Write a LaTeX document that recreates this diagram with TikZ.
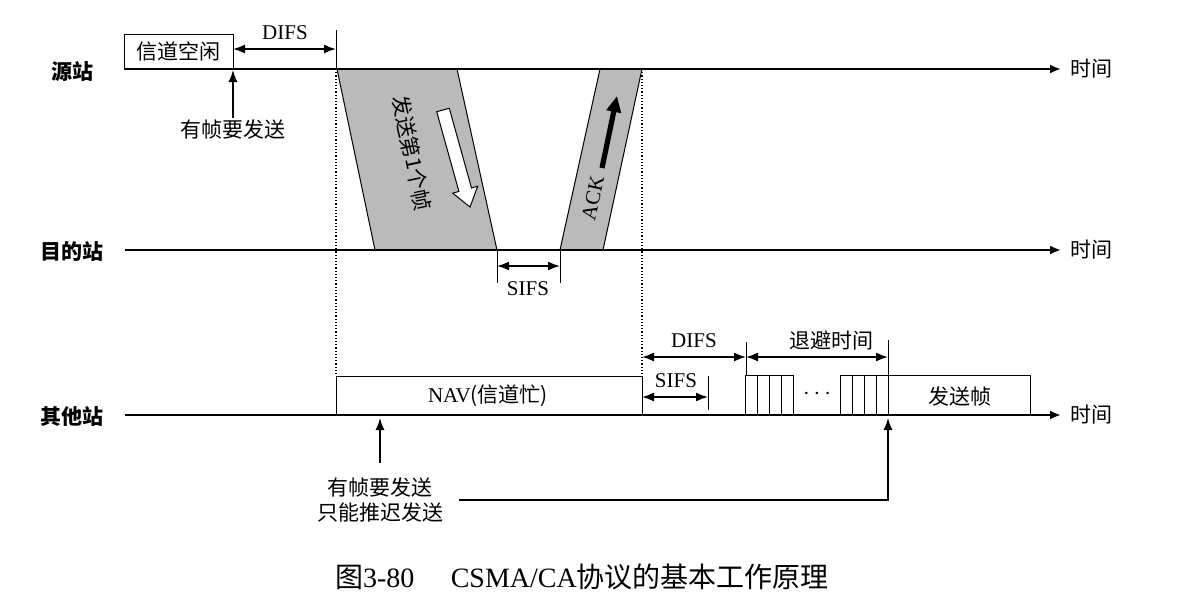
\documentclass[tikz,border=0pt]{standalone}
\usepackage{fontspec}
\setmainfont{Liberation Serif}
\newfontfamily\cjk{Noto Sans CJK SC}
\usetikzlibrary{arrows.meta}

\tikzset{
	axis/.style={line width=1.3pt,-{Latex[length=5.5pt,width=4.5pt]}},
	dim/.style={line width=0.8pt,{Latex[length=6pt,width=4.5pt]}-{Latex[length=6pt,width=4.5pt]}},
	arr/.style={line width=0.7pt,-{Latex[length=6pt,width=4.5pt]}},
	frame/.style={line width=0.5pt},
	guide/.style={line width=0.6pt,densely dotted},
	lbl/.style={font=\fontsize{10.5}{12.5}\selectfont\cjk,inner sep=1pt},
	stn/.style={font=\fontsize{10.5}{12.5}\selectfont\cjk\bfseries,inner sep=1pt},
	tlbl/.style={font=\fontsize{10.5}{12.5}\selectfont,inner sep=1pt},
}

\begin{document}
\begin{tikzpicture}[x=0.5pt,y=-0.5pt]
	\useasboundingbox (0,0) rectangle (1184,612);

	\coordinate (s0) at (124,69);
	\coordinate (s1) at (1061,69);
	\coordinate (d0) at (125,250);
	\coordinate (d1) at (1061,250);
	\coordinate (o0) at (125,415);
	\coordinate (o1) at (1061,415);

	\node[stn] (src) at (72,72) {源站};
	\node[stn] (dst) at (72,251) {目的站};
	\node[stn] (oth) at (72,416) {其他站};

	\fill[black!27] (337,69) -- (457,69) -- (497,250) -- (375,250) -- cycle;
	\draw[frame] (457,69) -- (497,250) (337,69) -- (375,250);
	\fill[black!27] (600,69) -- (642,69) -- (603,250) -- (560,250) -- cycle;
	\draw[frame] (600,69) -- (560,250) (642,69) -- (603,250);

	\draw[axis] (s0) -- (s1) node[lbl,right=3pt] (ts) {时间};
	\draw[axis] (d0) -- (d1) node[lbl,right=3pt] (td) {时间};
	\draw[axis] (o0) -- (o1) node[lbl,right=3pt] (to) {时间};

	\draw[frame] (124,34) rectangle (233,69);
	\node[lbl] (idle) at (178.5,51.5) {信道空闲};
	\coordinate (idleend) at (233,70);
	\node[lbl] (req) at (233,130) {有帧要发送};
	\draw[arr] (req.north) -- (idleend);

	\draw[frame] (336,30) -- (336,69);
	\coordinate (difsA) at (233,49);
	\coordinate (difsB) at (336,49);
	\draw[dim] (difsA) -- (difsB);
	\node[tlbl] (difs1) at (285,33) {DIFS};

	\draw[guide] (336,69) -- (336,376);
	\draw[guide] (642,69) -- (642,376);

	\node[lbl,rotate=-78] (frm) at (412,153) {发送第1个帧};
	\draw[frame,fill=white] (436.7,111.7) -- (449.3,108.3) -- (471.5,188.0) -- (477.7,186.2)
		-- (470,207) -- (452.7,193.2) -- (458.9,191.4) -- cycle;
	\node[tlbl,rotate=77.5] (ack) at (593,198) {ACK};
	\draw[line width=2.6pt,-{Triangle[length=8pt,width=7pt]}] (602,168) -- (617,96);

	\draw[frame] (497,250) -- (497,283) (560,250) -- (560,283);
	\coordinate (sifsA) at (497,266);
	\coordinate (sifsB) at (560,266);
	\draw[dim] (sifsA) -- (sifsB);
	\node[tlbl] (sifs1) at (528,289) {SIFS};

	\draw[frame] (336,376) rectangle (642,415);
	\node[tlbl] (nav) at (488,396) {NAV{\cjk (信道忙)}};

	\draw[frame] (746,342) -- (746,375) (888,340) -- (888,375) (708,376) -- (708,410);
	\coordinate (difsC) at (642,357);
	\coordinate (difsD) at (746,357);
	\coordinate (boD) at (888,357);
	\draw[dim] (difsC) -- (difsD);
	\draw[dim] (difsD) -- (boD);
	\node[tlbl] (difs2) at (694,341) {DIFS};
	\node[lbl] (bo) at (831,340) {退避时间};
	\coordinate (sifsC) at (642,397);
	\coordinate (sifsD) at (708,397);
	\draw[dim] (sifsC) -- (sifsD);
	\node[tlbl] (sifs2) at (676,381) {SIFS};

	\foreach \x in {745,840}
		\draw[frame] (\x,415) -- (\x,375) -- ++(48,0) -- ++(0,40)
			(\x+12,375) -- (\x+12,415) (\x+24,375) -- (\x+24,415) (\x+36,375) -- (\x+36,415);
	\node[tlbl,font=\fontsize{12}{14}\selectfont] (dots) at (817,394) {$\cdots$};
	\draw[frame] (888,375) rectangle (1030,415);
	\node[lbl] (sendf) at (960,396) {发送帧};

	\node[lbl,align=center] (defer) at (380,500) {有帧要发送\\只能推迟发送};
	\coordinate (navin) at (380,418);
	\coordinate (sendin) at (888,418);
	\draw[arr,shorten <=6pt] (defer.north) -- (navin);
	\draw[arr,shorten <=7pt] (defer.east) -- (888,500) -- (sendin);

	\node[font=\fontsize{14}{16}\selectfont] (cap) at (582,577) {{\cjk 图}3-80\hspace{1.3em}CSMA/CA{\cjk 协议的基本工作原理}};
\end{tikzpicture}
\end{document}
